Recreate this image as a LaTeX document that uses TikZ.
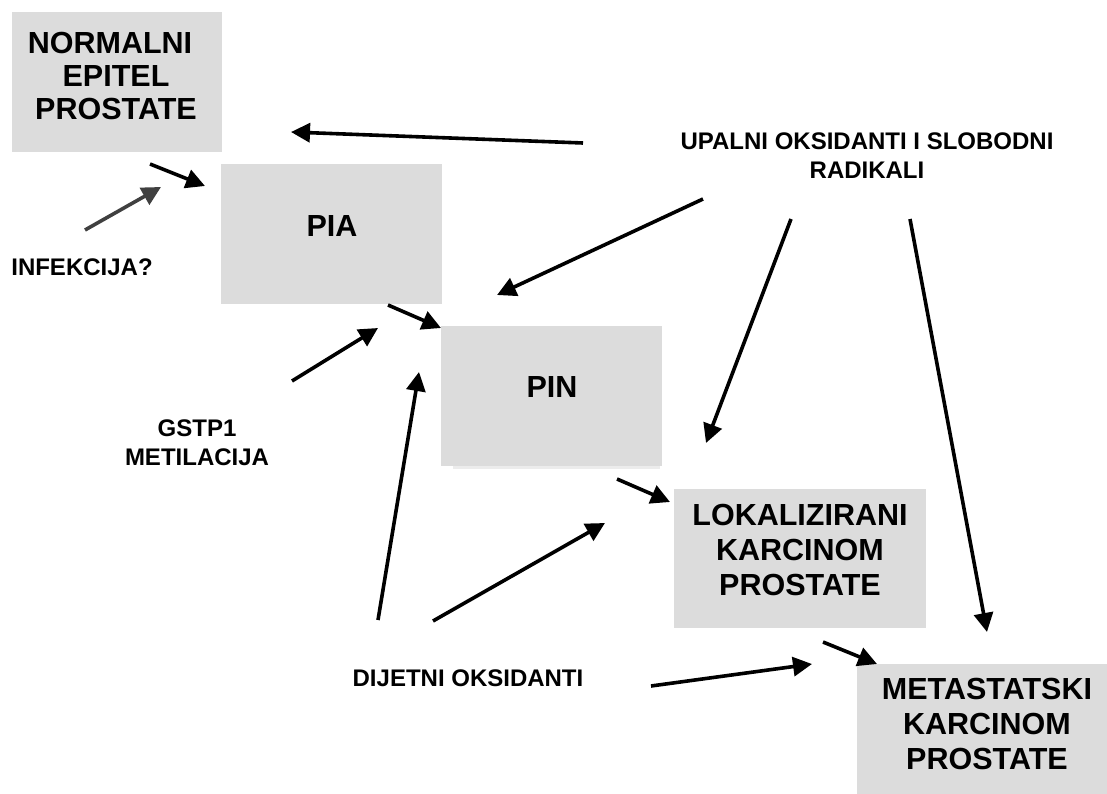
\documentclass[tikz,border=0pt]{standalone}
\usepackage{fontspec}
\setmainfont{Liberation Sans}
\usetikzlibrary{arrows.meta}
\definecolor{boxgray}{RGB}{220,220,220}
\definecolor{shadowgray}{RGB}{236,236,236}
\definecolor{infgray}{RGB}{64,64,64}
\tikzset{
  box/.style={fill=boxgray, draw=none, inner sep=0pt},
  bigtext/.style={font=\fontsize{30.5}{35}\selectfont\bfseries, align=center, inner sep=0pt},
  smalltext/.style={font=\fontsize{24}{29}\selectfont\bfseries, align=center, inner sep=0pt},
  arr/.style={line width=3.6pt, -{Triangle[length=19pt,width=19pt]}},
  grayarr/.style={arr, draw=infgray, color=infgray}
}
\begin{document}
\begin{tikzpicture}[x=1pt,y=-1pt]
\useasboundingbox (0,0) rectangle (1107,794);
% boxes
\node[box, minimum width=210pt, minimum height=140pt] (norm) at (117,82) {};
\node[box, minimum width=221pt, minimum height=140pt] (pia) at (331.5,234) {};
\fill[shadowgray] (453,466) rectangle (660,469);
\node[box, minimum width=221pt, minimum height=140pt] (pin) at (551.5,396) {};
\node[box, minimum width=252pt, minimum height=139pt] (lok) at (800,558.5) {};
\node[box, minimum width=250pt, minimum height=130pt] (met) at (982,729) {};
% texts
\node[bigtext, font=\fontsize{30.5}{33}\selectfont\bfseries] (normT) at (116,75.8) {NORMALNI\hspace*{12pt}\\EPITEL\\PROSTATE};
\node[bigtext] (piaT) at (332,226) {PIA};
\node[bigtext] (pinT) at (552,387) {PIN};
\node[bigtext] (lokT) at (800,550) {LOKALIZIRANI\\KARCINOM\\PROSTATE};
\node[bigtext] (metT) at (987,724) {METASTATSKI\\KARCINOM\\PROSTATE};
\node[smalltext] (upal) at (867,155.5) {UPALNI OKSIDANTI I SLOBODNI\\RADIKALI};
\node[smalltext] (inf) at (82,267) {INFEKCIJA?};
\node[smalltext] (gstp) at (197,443) {GSTP1\\METILACIJA};
\node[smalltext] (diet) at (468,678) {DIJETNI OKSIDANTI};
% arrow end points
\coordinate (a1s) at (583,143); \coordinate (a1e) at (291,132);
\coordinate (a2s) at (150,164); \coordinate (a2e) at (205,186);
\coordinate (a3s) at (85,230);  \coordinate (a3e) at (161,187);
\coordinate (a4s) at (703,199); \coordinate (a4e) at (497,295);
\coordinate (a5s) at (791,219); \coordinate (a5e) at (706,443);
\coordinate (a6s) at (910,219); \coordinate (a6e) at (987,632);
\coordinate (a7s) at (388,305); \coordinate (a7e) at (441,328);
\coordinate (a8s) at (292,381); \coordinate (a8e) at (378,328);
\coordinate (a9s) at (378,620); \coordinate (a9e) at (419,372);
\coordinate (a10s) at (433,621); \coordinate (a10e) at (605,523);
\coordinate (a11s) at (617,479); \coordinate (a11e) at (670,502);
\coordinate (a12s) at (823,642); \coordinate (a12e) at (877,664);
\coordinate (a13s) at (651,686); \coordinate (a13e) at (812,664);
% arrows
\draw[arr] (a1s) -- (a1e);
\draw[arr] (a2s) -- (a2e);
\draw[grayarr] (a3s) -- (a3e);
\draw[arr] (a4s) -- (a4e);
\draw[arr] (a5s) -- (a5e);
\draw[arr] (a6s) -- (a6e);
\draw[arr] (a7s) -- (a7e);
\draw[arr] (a8s) -- (a8e);
\draw[arr] (a9s) -- (a9e);
\draw[arr] (a10s) -- (a10e);
\draw[arr] (a11s) -- (a11e);
\draw[arr] (a12s) -- (a12e);
\draw[arr] (a13s) -- (a13e);
\end{tikzpicture}
\end{document}
